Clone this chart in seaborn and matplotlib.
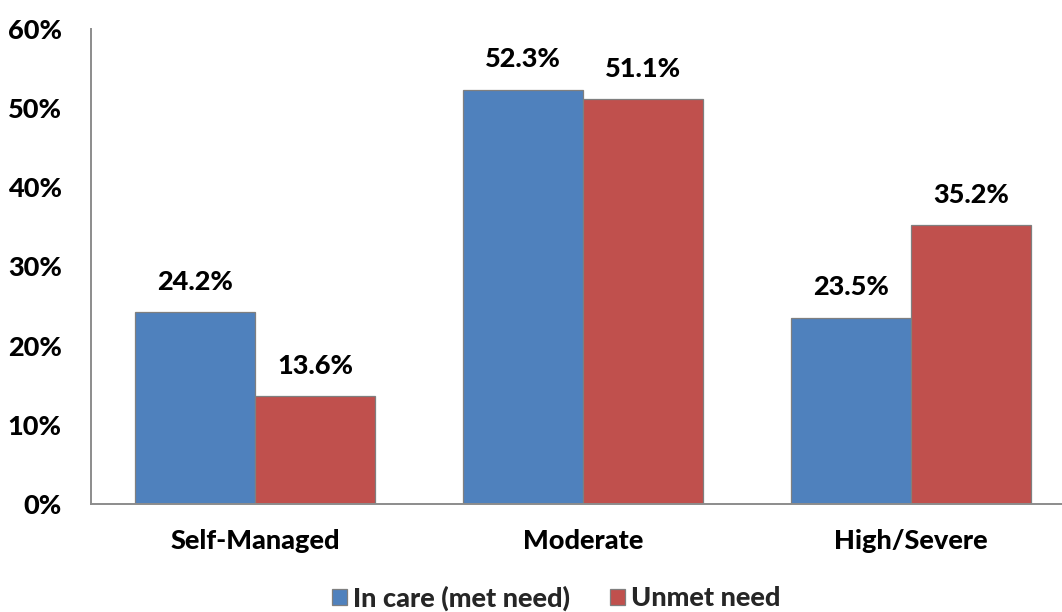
import matplotlib
matplotlib.use("Agg")
import matplotlib.pyplot as plt
import seaborn as sns
import pandas as pd
from matplotlib.patches import Patch

# Share of people by need level, split by care status (%)
categories = ["Self-Managed", "Moderate", "High/Severe"]
series_names = ["In care (met need)", "Unmet need"]
in_care = [24.2, 52.3, 23.5]
unmet = [13.6, 51.1, 35.2]
y_ticks = [0, 10, 20, 30, 40, 50, 60]
colors = ["#4F81BD", "#C0504D"]

df = pd.DataFrame({
    "category": categories * 2,
    "group": [series_names[0]] * 3 + [series_names[1]] * 3,
    "value": in_care + unmet,
})

WEIGHT = 900
SIZE = 19.5

sns.set_theme(style="white")
plt.rcParams["font.family"] = ["Lato", "DejaVu Sans"]
plt.rcParams["font.weight"] = WEIGHT

fig = plt.figure(figsize=(10.62, 6.12), dpi=100)
ax = fig.add_axes([91 / 1062, 108 / 612, 984 / 1062, 475 / 612])

sns.barplot(data=df, x="category", y="value", hue="group", order=categories,
            hue_order=series_names, palette=colors, width=0.73, gap=0,
            saturation=1, edgecolor="#7F7F7F", linewidth=0.9, ax=ax,
            legend=False)

for container in ax.containers:
    for bar in container:
        h = bar.get_height()
        ax.annotate(f"{h:.1f}%", (bar.get_x() + bar.get_width() / 2, h),
                    xytext=(0, 22), textcoords="offset points",
                    ha="center", va="center", fontsize=SIZE, fontweight=WEIGHT,
                    color="#000000")

ax.set_xlim(-0.5, 2.5)
ax.set_ylim(0, 60)
ax.set_yticks(y_ticks)
ax.set_yticklabels([f"{t}%" for t in y_ticks])
ax.set_xlabel("")
ax.set_ylabel("")
ax.tick_params(axis="y", length=0, pad=21, labelsize=SIZE)
ax.tick_params(axis="x", length=0, pad=18, labelsize=SIZE)
for lab in ax.get_xticklabels() + ax.get_yticklabels():
    lab.set_fontweight(WEIGHT)
    lab.set_color("#000000")

for side in ["top", "right"]:
    ax.spines[side].set_visible(False)
for side in ["left", "bottom"]:
    ax.spines[side].set_color("#8C8C8C")
    ax.spines[side].set_linewidth(1.4)

handles = [Patch(facecolor=c, edgecolor="#7F7F7F", linewidth=0.9) for c in colors]
fig.legend(handles, series_names, loc="center", bbox_to_anchor=(556 / 1062, 14 / 612),
           ncol=2, frameon=False, prop={"weight": WEIGHT, "size": SIZE},
           handlelength=0.55, handleheight=0.55, handletextpad=0.22, columnspacing=1.5)

fig.savefig("out.png", dpi=100)
